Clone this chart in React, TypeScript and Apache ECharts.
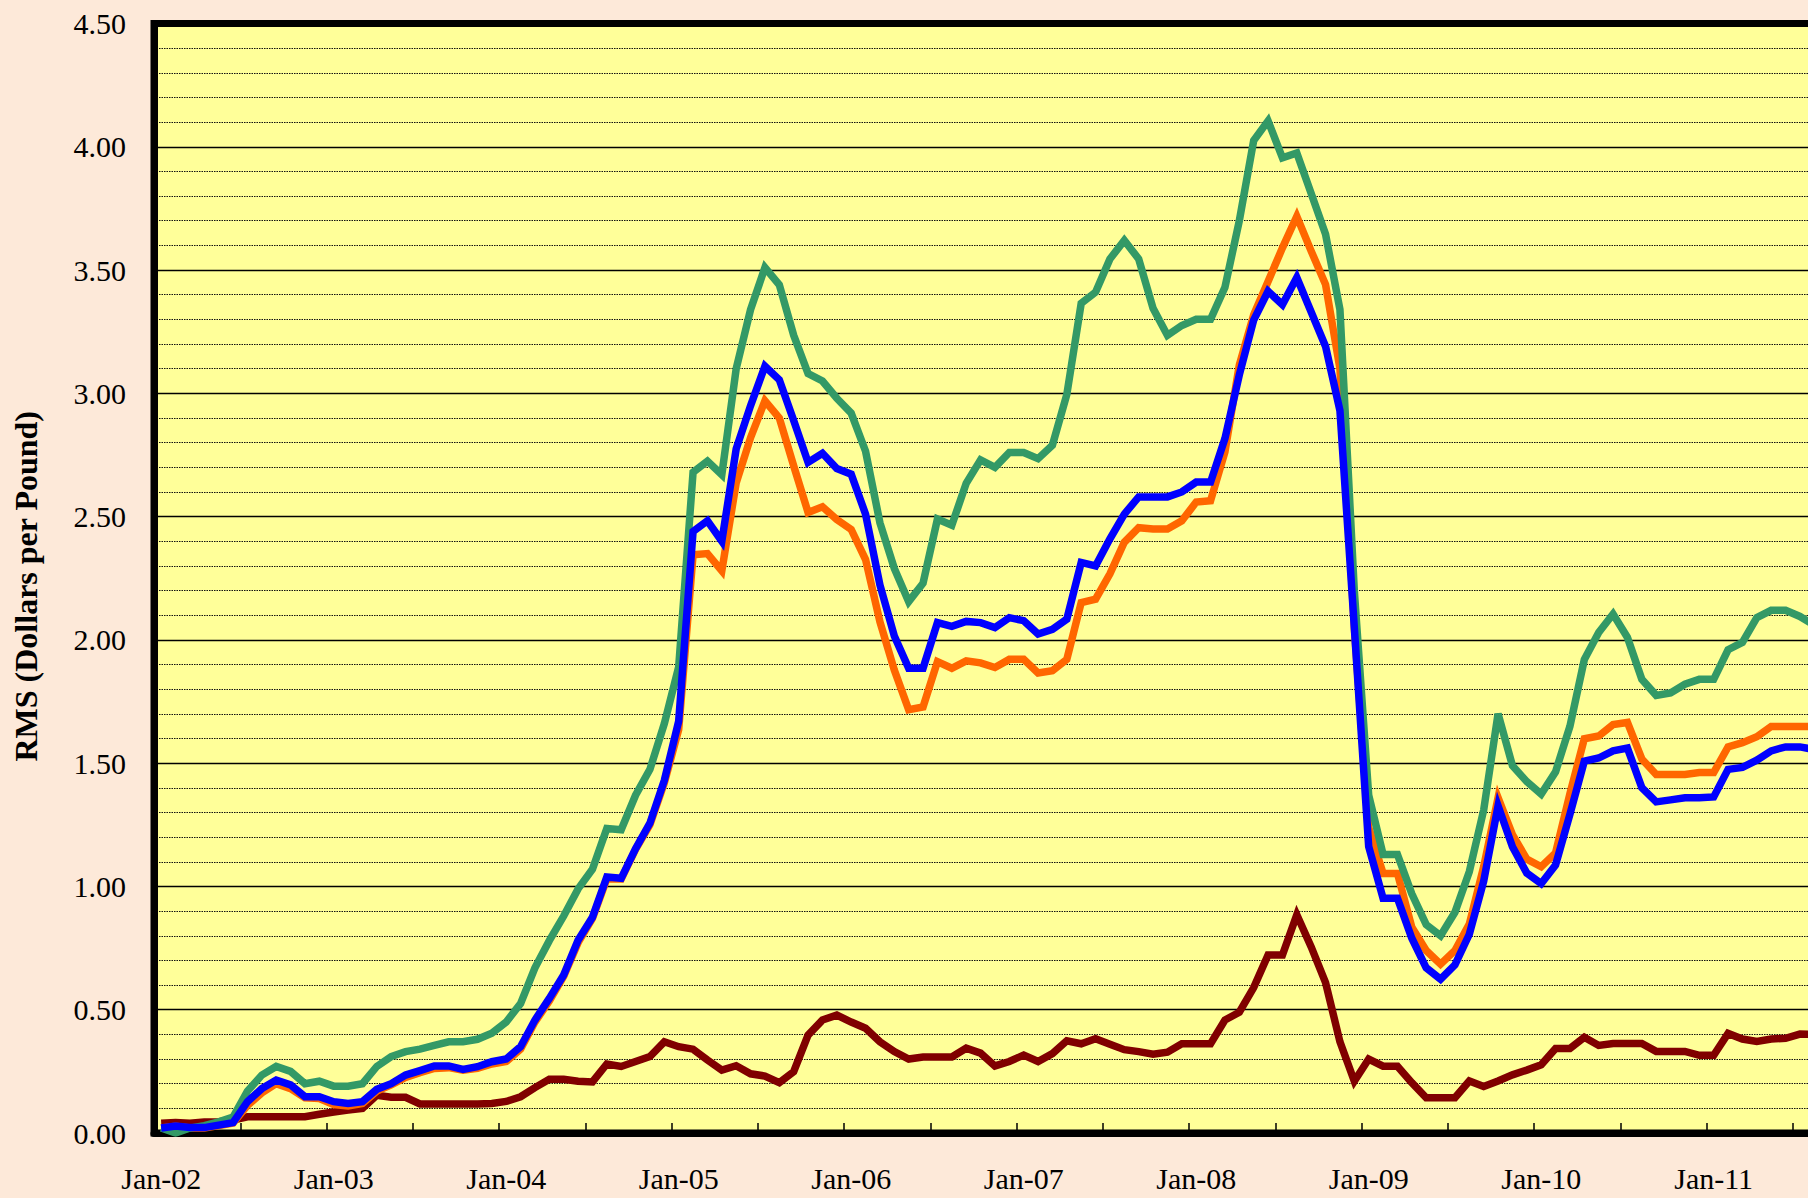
import React, { useEffect, useRef } from "react";
import * as echarts from "echarts";

const monthNames = ["Jan", "Feb", "Mar", "Apr", "May", "Jun", "Jul", "Aug", "Sep", "Oct", "Nov", "Dec"];
const yearLabels = ["02", "03", "04", "05", "06", "07", "08", "09", "10", "11"];
const categories: string[] = [];
yearLabels.forEach((y) => monthNames.forEach((m) => categories.push(`${m}-${y}`)));

const yTicks = { min: 0, max: 4.5, interval: 0.5 };
const yAxisTitle = "RMS (Dollars per Pound)";

const greenSeries = [
  0.02, 0.0, 0.02, 0.03, 0.045, 0.065, 0.17, 0.235, 0.27, 0.25, 0.2, 0.21,
  0.19, 0.19, 0.2, 0.27, 0.31, 0.33, 0.34, 0.355, 0.37, 0.37, 0.38, 0.405,
  0.45, 0.525, 0.67, 0.78, 0.88, 0.99, 1.07, 1.235, 1.23, 1.37, 1.475, 1.66,
  1.89, 2.68, 2.725, 2.67, 3.1, 3.34, 3.51, 3.44, 3.235, 3.08, 3.05, 2.98,
  2.92, 2.765, 2.475, 2.29, 2.155, 2.23, 2.49, 2.465, 2.635, 2.73, 2.7, 2.76,
  2.76, 2.735, 2.79, 2.995, 3.365, 3.41, 3.545, 3.62, 3.545, 3.345, 3.235, 3.275,
  3.3, 3.3, 3.43, 3.7, 4.025, 4.105, 3.955, 3.975, 3.81, 3.645, 3.34, 2.2,
  1.37, 1.13, 1.13, 0.97, 0.845, 0.8, 0.895, 1.06, 1.31, 1.7, 1.49, 1.425,
  1.375, 1.465, 1.65, 1.92, 2.03, 2.105, 2.01, 1.84, 1.775, 1.785, 1.82, 1.84,
  1.84, 1.96, 1.99, 2.09, 2.12, 2.12, 2.095, 2.06,
];

const orangeSeries = [
  0.02, 0.027, 0.02, 0.02, 0.03, 0.04, 0.112, 0.163, 0.2, 0.18, 0.143, 0.14,
  0.115, 0.11, 0.12, 0.17, 0.195, 0.225, 0.245, 0.262, 0.265, 0.255, 0.262, 0.28,
  0.29, 0.34, 0.45, 0.535, 0.635, 0.772, 0.87, 1.03, 1.03, 1.15, 1.25, 1.42,
  1.636, 2.345, 2.35, 2.28, 2.637, 2.82, 2.97, 2.9, 2.706, 2.517, 2.54, 2.488,
  2.448, 2.326, 2.073, 1.878, 1.717, 1.728, 1.912, 1.885, 1.915, 1.907, 1.888, 1.921,
  1.921, 1.866, 1.875, 1.921, 2.151, 2.165, 2.268, 2.396, 2.455, 2.45, 2.45, 2.483,
  2.559, 2.564, 2.762, 3.115, 3.319, 3.454, 3.59, 3.718, 3.577, 3.441, 3.1, 2.05,
  1.24, 1.053, 1.053, 0.835, 0.74, 0.685, 0.74, 0.847, 1.08, 1.36, 1.21, 1.111,
  1.08, 1.136, 1.376, 1.599, 1.61, 1.657, 1.665, 1.517, 1.454, 1.454, 1.454, 1.462,
  1.462, 1.566, 1.583, 1.607, 1.649, 1.649, 1.649, 1.649,
];

const blueSeries = [
  0.02, 0.028, 0.022, 0.022, 0.032, 0.042, 0.127, 0.18, 0.215, 0.195, 0.147, 0.147,
  0.127, 0.12, 0.127, 0.177, 0.2, 0.235, 0.253, 0.272, 0.272, 0.258, 0.269, 0.289,
  0.3, 0.35, 0.458, 0.546, 0.641, 0.782, 0.875, 1.038, 1.033, 1.153, 1.257, 1.43,
  1.67, 2.44, 2.483, 2.4, 2.775, 2.95, 3.11, 3.055, 2.89, 2.72, 2.757, 2.695,
  2.672, 2.51, 2.223, 2.016, 1.885, 1.885, 2.07, 2.055, 2.075, 2.07, 2.05, 2.09,
  2.078, 2.024, 2.043, 2.084, 2.314, 2.3, 2.41, 2.51, 2.58, 2.58, 2.58, 2.6,
  2.64, 2.64, 2.817, 3.075, 3.297, 3.414, 3.36, 3.47, 3.33, 3.19, 2.93, 2.05,
  1.162, 0.952, 0.952, 0.79, 0.67, 0.624, 0.682, 0.806, 1.021, 1.327, 1.161, 1.054,
  1.012, 1.087, 1.293, 1.508, 1.521, 1.55, 1.561, 1.401, 1.343, 1.351, 1.36, 1.36,
  1.363, 1.475, 1.483, 1.512, 1.55, 1.566, 1.566, 1.555,
];

const darkRedSeries = [
  0.04, 0.043, 0.04, 0.045, 0.046, 0.053, 0.066, 0.066, 0.066, 0.066, 0.066, 0.076,
  0.085, 0.093, 0.1, 0.153, 0.145, 0.145, 0.118, 0.118, 0.118, 0.118, 0.118, 0.12,
  0.128, 0.147, 0.184, 0.218, 0.218, 0.21, 0.207, 0.28, 0.27, 0.29, 0.31, 0.37,
  0.35, 0.34, 0.296, 0.255, 0.273, 0.24, 0.231, 0.204, 0.249, 0.397, 0.458, 0.478,
  0.45, 0.425, 0.37, 0.33, 0.3, 0.308, 0.308, 0.308, 0.344, 0.324, 0.272, 0.29,
  0.316, 0.29, 0.322, 0.374, 0.362, 0.382, 0.36, 0.338, 0.33, 0.32, 0.328, 0.362,
  0.362, 0.362, 0.458, 0.49, 0.59, 0.722, 0.722, 0.885, 0.755, 0.61, 0.37, 0.21,
  0.3, 0.271, 0.271, 0.204, 0.143, 0.143, 0.143, 0.211, 0.189, 0.211, 0.236, 0.255,
  0.277, 0.343, 0.343, 0.388, 0.355, 0.363, 0.363, 0.363, 0.331, 0.331, 0.331, 0.315,
  0.315, 0.404, 0.381, 0.371, 0.381, 0.384, 0.401, 0.4,
];

const FONT = "'Liberation Serif', 'Times New Roman', serif";
const MONTH_PX = 14.375;

function lineSeries(name: string, data: number[], color: string, z: number) {
  return {
    name,
    type: "line",
    data,
    showSymbol: false,
    symbol: "none",
    z,
    lineStyle: { color, width: 7.5, join: "miter" },
    itemStyle: { color },
  };
}

export default function App() {
  const ref = useRef<HTMLDivElement>(null);

  useEffect(() => {
    if (!ref.current) return;
    const chart = echarts.init(ref.current, null, { renderer: "svg" });
    chart.setOption({
      animation: false,
      backgroundColor: "transparent",
      grid: {
        show: true,
        left: 154,
        top: 23.5,
        width: categories.length * MONTH_PX,
        height: 1109.5,
        backgroundColor: "#FFFF99",
        borderColor: "#000",
        borderWidth: 7,
        containLabel: false,
      },
      xAxis: {
        type: "category",
        data: categories,
        boundaryGap: true,
        axisLine: { show: true, lineStyle: { color: "#000", width: 7 } },
        axisTick: { show: true, inside: true, interval: 5, length: 10, lineStyle: { color: "#000", width: 1.5 } },
        axisLabel: {
          interval: 11,
          margin: 30,
          fontFamily: FONT,
          fontSize: 30,
          color: "#000",
        },
        splitLine: { show: false },
      },
      yAxis: {
        type: "value",
        min: yTicks.min,
        max: yTicks.max,
        interval: yTicks.interval,
        name: yAxisTitle,
        nameLocation: "middle",
        nameGap: 112,
        nameTextStyle: {
          fontFamily: FONT,
          fontSize: 32,
          fontWeight: "bold",
          color: "#000",
          padding: [0, 16, 0, 0],
        },
        axisLine: { show: true, lineStyle: { color: "#000", width: 7 } },
        axisTick: { show: false },
        axisLabel: {
          margin: 28,
          fontFamily: FONT,
          fontSize: 30,
          color: "#000",
          formatter: (v: number) => v.toFixed(2),
        },
        splitLine: { show: true, lineStyle: { color: "#000", width: 1.3 } },
        minorTick: { show: false, splitNumber: 5 },
        minorSplitLine: { show: true, lineStyle: { color: "#111", width: 1.2, type: [1.5, 1] } },
      },
      series: [
        lineSeries("Dark red", darkRedSeries, "#800000", 2),
        lineSeries("Orange", orangeSeries, "#FF6600", 3),
        lineSeries("Green", greenSeries, "#339966", 4),
        lineSeries("Blue", blueSeries, "#0000FF", 5),
      ],
    });
    return () => chart.dispose();
  }, []);

  return (
    <div
      style={{
        position: "fixed",
        left: 0,
        top: 0,
        width: 1808,
        height: 1198,
        overflow: "hidden",
        background: "#FDE9D9",
      }}
    >
      <div ref={ref} style={{ width: 1920, height: 1198 }} />
    </div>
  );
}
